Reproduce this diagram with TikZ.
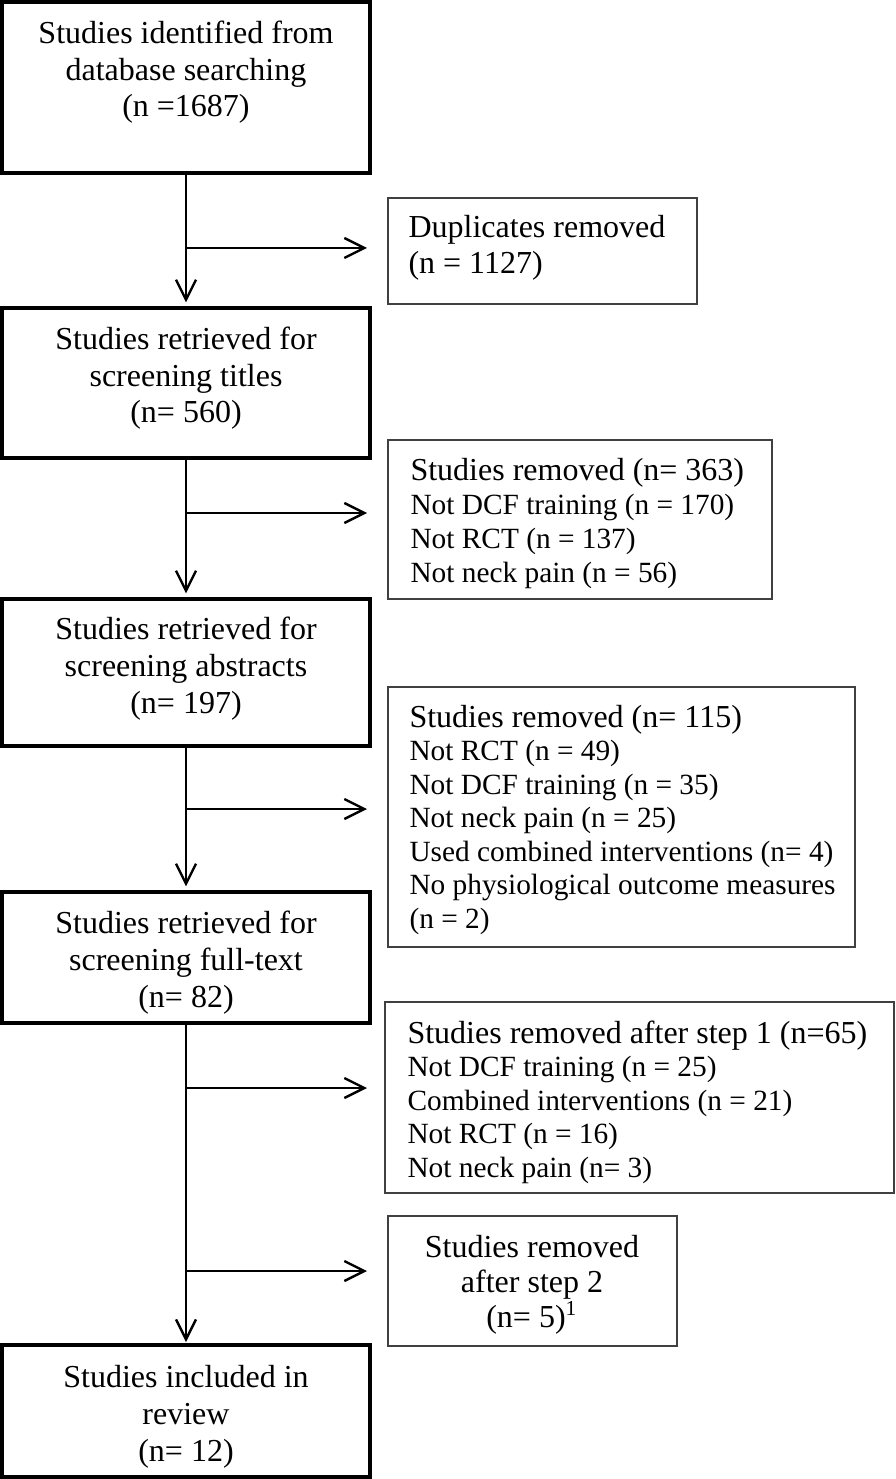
\documentclass[tikz,border=0pt]{standalone}
\usepackage{fontspec}
\setmainfont{Liberation Serif}
\usetikzlibrary{arrows.meta,fit}
\begin{document}
\begin{tikzpicture}[x=0.375pt, y=-0.375pt,
  lbox/.style={draw, line width=1.2pt, inner sep=0pt},
  rbox/.style={draw=black!75, line width=0.55pt, inner sep=0pt},
  flow/.style={line width=0.9pt, -{Straight Barb[length=7.5pt,width=7.5pt]}},
  ltext/.style={font=\fontsize{12}{13.7}\selectfont, align=center, anchor=base, inner sep=0pt},
  rtext/.style={align=left, anchor=base west, inner sep=0pt}]
\useasboundingbox (0,0) rectangle (895,1479);
% left boxes
\node[lbox, fit={(2,2)(370,173)}] (b1) {};
\node[lbox, fit={(2,308)(370,458)}] (b2) {};
\node[lbox, fit={(2,599)(370,746)}] (b3) {};
\node[lbox, fit={(2,892)(370,1023)}] (b4) {};
\node[lbox, fit={(2,1345)(370,1477)}] (b5) {};
% right boxes
\node[rbox, fit={(388,198)(697,304)}] (r1) {};
\node[rbox, fit={(388,440)(772,599)}] (r2) {};
\node[rbox, fit={(388,687)(855,947)}] (r3) {};
\node[rbox, fit={(385,1002)(894,1193)}] (r4) {};
\node[rbox, fit={(388,1216)(677,1346)}] (r5) {};
% left texts (anchored at the baseline of the last line)
\node[ltext] (t1) at (186,117) {Studies identified from\\database searching\\(n =1687)};
\node[ltext] (t2) at (186,423) {Studies retrieved for\\screening titles\\(n= 560)};
\node[ltext] (t3) at (186,713) {Studies retrieved for\\screening abstracts\\(n= 197)};
\node[ltext] (t4) at (186,1007) {Studies retrieved for\\screening full-text\\(n= 82)};
\node[ltext] (t5) at (186,1461) {Studies included in\\review\\(n= 12)};
% right texts
\node[rtext, font=\fontsize{12}{13.5}\selectfont] (s1) at (408,274) {Duplicates removed\\(n = 1127)};
\node[rtext, font=\fontsize{11}{12.75}\selectfont] (s2) at (410,582) {{\fontsize{12}{12.75}\selectfont Studies removed (n= 363)}\\Not DCF training (n = 170)\\Not RCT (n = 137)\\Not neck pain (n = 56)};
\node[rtext, font=\fontsize{11}{12.56}\selectfont] (s3) at (409,928) {{\fontsize{12}{12.56}\selectfont Studies removed (n= 115)}\\Not RCT (n = 49)\\Not DCF training (n = 35)\\Not neck pain (n = 25)\\Used combined interventions (n= 4)\\No physiological outcome measures\\(n = 2)};
\node[rtext, font=\fontsize{11}{12.56}\selectfont] (s4) at (407,1177) {{\fontsize{12}{12.56}\selectfont Studies removed after step 1 (n=65)}\\Not DCF training (n = 25)\\Combined interventions (n = 21)\\Not RCT (n = 16)\\Not neck pain (n= 3)};
\node[ltext, font=\fontsize{12}{13.1}\selectfont] (s5) at (532,1327) {Studies removed\\after step 2\\(n= 5)\textsuperscript{1}};
% connectors
\draw[flow, shorten >=1.5pt] (b1.south) -- (b2.north);
\draw[flow, shorten >=1.5pt] (b2.south) -- (b3.north);
\draw[flow, shorten >=1.5pt] (b3.south) -- (b4.north);
\draw[flow, shorten >=0.5pt] (b4.south) -- (b5.north);
\coordinate (e1) at (367,248);
\coordinate (e2) at (367,513);
\coordinate (e3) at (367,809);
\coordinate (e4) at (367,1088);
\coordinate (e5) at (367,1271);
\draw[flow] (b1.south |- e1) -- (e1);
\draw[flow] (b2.south |- e2) -- (e2);
\draw[flow] (b3.south |- e3) -- (e3);
\draw[flow] (b4.south |- e4) -- (e4);
\draw[flow] (b4.south |- e5) -- (e5);
\end{tikzpicture}
\end{document}
